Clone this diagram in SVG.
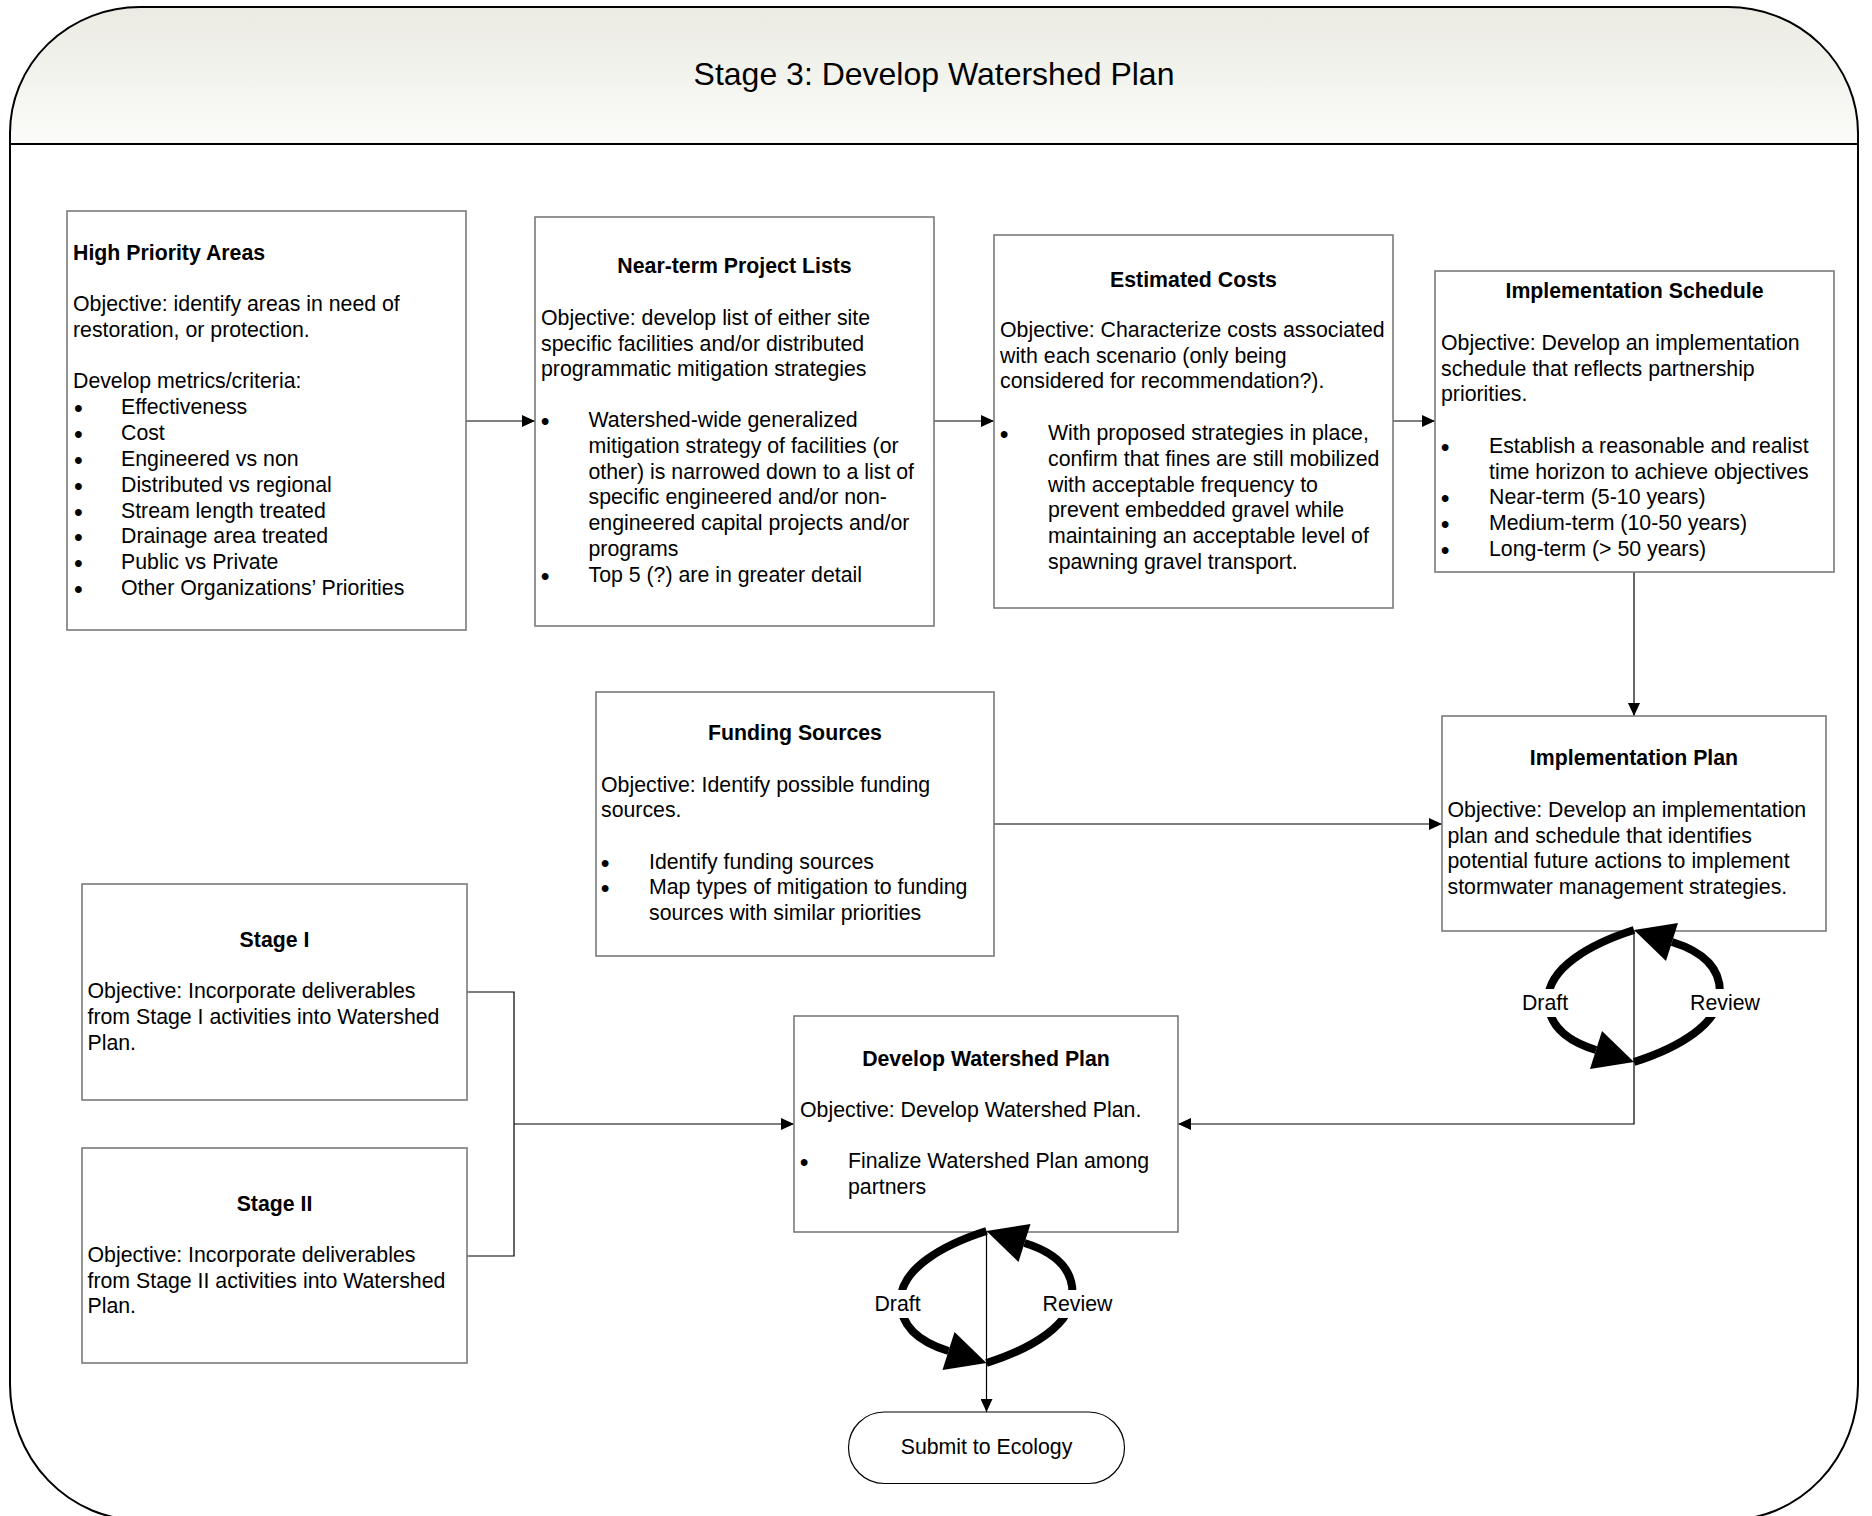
<svg xmlns="http://www.w3.org/2000/svg" width="1872" height="1516" viewBox="0 0 1872 1516">
<defs>
<linearGradient id="hdr" x1="0" y1="0" x2="0" y2="1">
<stop offset="0" stop-color="#ebebe3"/>
<stop offset="1" stop-color="#fbfbf9"/>
</linearGradient>
<marker id="ah" markerUnits="userSpaceOnUse" markerWidth="13" markerHeight="12" refX="13" refY="6" orient="auto">
<path d="M0,0 L13,6 L0,12 Z" fill="#000"/>
</marker>
<style>
text{font-family:"Liberation Sans",Arial,Helvetica,sans-serif;font-size:21.3px;fill:#000}
.b{font-weight:bold}
.m{text-anchor:middle}
.title{font-size:32px}
.bu{font-size:25px;text-anchor:middle}
.box{fill:#fff;stroke:#7a7a7a;stroke-width:1.6}
.conn{fill:none;stroke:#000;stroke-width:1.2}
.thick{fill:none;stroke:#000;stroke-width:8;stroke-linecap:butt}
</style>
</defs>
<rect width="1872" height="1516" fill="#fff"/>
<g id="frame">
<path d="M10 144 V133 A130 126 0 0 1 140 7 H1728 A130 126 0 0 1 1858 133 V144 Z" fill="url(#hdr)"/>
<path d="M10 133 A130 126 0 0 1 140 7 H1728 A130 126 0 0 1 1858 133 V1384 A130 136 0 0 1 1728 1520 H140 A130 136 0 0 1 10 1384 Z" fill="none" stroke="#000" stroke-width="2"/>
<line x1="10" y1="144" x2="1858" y2="144" stroke="#000" stroke-width="2.2"/>
<text class="title m" x="934" y="85">Stage 3: Develop Watershed Plan</text>
</g>

<g id="connectors">
<path class="conn" d="M466 421 H535" marker-end="url(#ah)"/>
<path class="conn" d="M934 421 H994" marker-end="url(#ah)"/>
<path class="conn" d="M1393 421 H1435" marker-end="url(#ah)"/>
<path class="conn" d="M1634 572 V716" marker-end="url(#ah)"/>
<path class="conn" d="M994 824 H1442" marker-end="url(#ah)"/>
<path class="conn" d="M1634 931 V1124 H1178" marker-end="url(#ah)"/>
<path class="conn" d="M467 992 H514 V1256 H467"/>
<path class="conn" d="M514 1124 H794" marker-end="url(#ah)"/>
<path class="conn" d="M986.5 1232 V1412" marker-end="url(#ah)"/>
</g>

<g id="hpa">
<rect class="box" x="67" y="211" width="399" height="419"/>
<text class="b" x="73" y="260">High Priority Areas</text>
<text x="73" y="310.7">Objective: identify areas in need of</text>
<text x="73" y="336.6">restoration, or protection.</text>
<text x="73" y="388.3">Develop metrics/criteria:</text>
<text class="bu" x="78.3" y="417.2">•</text><text x="121" y="414.2">Effectiveness</text>
<text class="bu" x="78.3" y="443">•</text><text x="121" y="440">Cost</text>
<text class="bu" x="78.3" y="468.9">•</text><text x="121" y="465.9">Engineered vs non</text>
<text class="bu" x="78.3" y="494.7">•</text><text x="121" y="491.7">Distributed vs regional</text>
<text class="bu" x="78.3" y="520.6">•</text><text x="121" y="517.6">Stream length treated</text>
<text class="bu" x="78.3" y="546.4">•</text><text x="121" y="543.4">Drainage area treated</text>
<text class="bu" x="78.3" y="572.3">•</text><text x="121" y="569.3">Public vs Private</text>
<text class="bu" x="78.3" y="598.1">•</text><text x="121" y="595.1">Other Organizations’ Priorities</text>
</g>

<g id="ntpl">
<rect class="box" x="535" y="217" width="399" height="409"/>
<text class="b m" x="734.5" y="273">Near-term Project Lists</text>
<text x="541" y="325">Objective: develop list of either site</text>
<text x="541" y="350.5">specific facilities and/or distributed</text>
<text x="541" y="376">programmatic mitigation strategies</text>
<text class="bu" x="545.2" y="430.3">•</text><text x="588.5" y="427.3">Watershed-wide generalized</text>
<text x="588.5" y="453">mitigation strategy of facilities (or</text>
<text x="588.5" y="478.7">other) is narrowed down to a list of</text>
<text x="588.5" y="504.4">specific engineered and/or non-</text>
<text x="588.5" y="530.1">engineered capital projects and/or</text>
<text x="588.5" y="555.8">programs</text>
<text class="bu" x="545.2" y="584.5">•</text><text x="588.5" y="581.5">Top 5 (?) are in greater detail</text>
</g>

<g id="ec">
<rect class="box" x="994" y="235" width="399" height="373"/>
<text class="b m" x="1193.5" y="287">Estimated Costs</text>
<text x="1000" y="336.7">Objective: Characterize costs associated</text>
<text x="1000" y="362.5">with each scenario (only being</text>
<text x="1000" y="388.3">considered for recommendation?).</text>
<text class="bu" x="1004.2" y="443">•</text><text x="1048" y="440">With proposed strategies in place,</text>
<text x="1048" y="465.8">confirm that fines are still mobilized</text>
<text x="1048" y="491.6">with acceptable frequency to</text>
<text x="1048" y="517.4">prevent embedded gravel while</text>
<text x="1048" y="543.2">maintaining an acceptable level of</text>
<text x="1048" y="569">spawning gravel transport.</text>
</g>

<g id="is">
<rect class="box" x="1435" y="271" width="399" height="301"/>
<text class="b m" x="1634.5" y="298.3">Implementation Schedule</text>
<text x="1441" y="350">Objective: Develop an implementation</text>
<text x="1441" y="375.7">schedule that reflects partnership</text>
<text x="1441" y="401.4">priorities.</text>
<text class="bu" x="1445.2" y="455.8">•</text><text x="1489" y="452.8">Establish a reasonable and realist</text>
<text x="1489" y="478.5">time horizon to achieve objectives</text>
<text class="bu" x="1445.2" y="507.2">•</text><text x="1489" y="504.2">Near-term (5-10 years)</text>
<text class="bu" x="1445.2" y="532.9">•</text><text x="1489" y="529.9">Medium-term (10-50 years)</text>
<text class="bu" x="1445.2" y="558.6">•</text><text x="1489" y="555.6">Long-term (&gt; 50 years)</text>
</g>

<g id="fs">
<rect class="box" x="596" y="692" width="398" height="264"/>
<text class="b m" x="795" y="740">Funding Sources</text>
<text x="601" y="791.7">Objective: Identify possible funding</text>
<text x="601" y="817.3">sources.</text>
<text class="bu" x="605.2" y="871.5">•</text><text x="649" y="868.5">Identify funding sources</text>
<text class="bu" x="605.2" y="897.2">•</text><text x="649" y="894.2">Map types of mitigation to funding</text>
<text x="649" y="919.9">sources with similar priorities</text>
</g>

<g id="ip">
<rect class="box" x="1442" y="716" width="384" height="215"/>
<text class="b m" x="1634" y="765">Implementation Plan</text>
<text x="1447.5" y="816.7">Objective: Develop an implementation</text>
<text x="1447.5" y="842.5">plan and schedule that identifies</text>
<text x="1447.5" y="868.3">potential future actions to implement</text>
<text x="1447.5" y="894">stormwater management strategies.</text>
</g>

<g id="stage1">
<rect class="box" x="82" y="884" width="385" height="216"/>
<text class="b m" x="274.5" y="947.3">Stage I</text>
<text x="87.5" y="998.3">Objective: Incorporate deliverables</text>
<text x="87.5" y="1024.2">from Stage I activities into Watershed</text>
<text x="87.5" y="1050">Plan.</text>
</g>

<g id="stage2">
<rect class="box" x="82" y="1148" width="385" height="215"/>
<text class="b m" x="274.5" y="1210.7">Stage II</text>
<text x="87.5" y="1261.7">Objective: Incorporate deliverables</text>
<text x="87.5" y="1287.5">from Stage II activities into Watershed</text>
<text x="87.5" y="1313.3">Plan.</text>
</g>

<g id="dwp">
<rect class="box" x="794" y="1016" width="384" height="216"/>
<text class="b m" x="986" y="1066">Develop Watershed Plan</text>
<text x="800" y="1116.7">Objective: Develop Watershed Plan.</text>
<text class="bu" x="804.2" y="1171.3">•</text><text x="848" y="1168.3">Finalize Watershed Plan among</text>
<text x="848" y="1194">partners</text>
</g>

<g id="submit">
<rect x="848.5" y="1412" width="276" height="71.5" rx="35.75" ry="35.75" fill="#fff" stroke="#000" stroke-width="1.2"/>
<text class="m" x="986.5" y="1454">Submit to Ecology</text>
</g>

<g id="loop-ip" transform="translate(1634 996)">
<path class="thick" d="M0 -66 C-44 -52 -86 -28 -86 4 C-86 32 -64 46 -38 54"/>
<polygon points="0,66 -44,73 -32,35" fill="#000"/>
<path class="thick" d="M0 66 C44 52 86 28 86 -4 C86 -32 64 -46 38 -54"/>
<polygon points="0,-66 44,-73 32,-35" fill="#000"/>
<rect x="-115" y="-7" width="52" height="28" fill="#fff"/>
<rect x="54" y="-7" width="74" height="28" fill="#fff"/>
<text class="m" x="-89" y="14">Draft</text>
<text class="m" x="91" y="14">Review</text>
</g>

<g id="loop-dwp" transform="translate(986.5 1297)">
<path class="thick" d="M0 -66 C-44 -52 -86 -28 -86 4 C-86 32 -64 46 -38 54"/>
<polygon points="0,66 -44,73 -32,35" fill="#000"/>
<path class="thick" d="M0 66 C44 52 86 28 86 -4 C86 -32 64 -46 38 -54"/>
<polygon points="0,-66 44,-73 32,-35" fill="#000"/>
<rect x="-115" y="-7" width="52" height="28" fill="#fff"/>
<rect x="54" y="-7" width="74" height="28" fill="#fff"/>
<text class="m" x="-89" y="14">Draft</text>
<text class="m" x="91" y="14">Review</text>
</g>
</svg>
